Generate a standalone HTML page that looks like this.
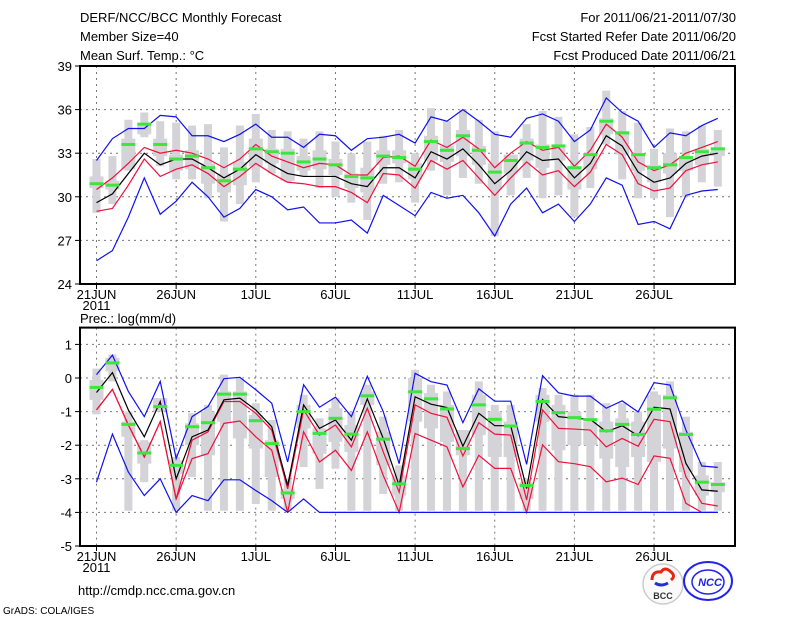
<!DOCTYPE html>
<html><head><meta charset="utf-8"><style>
body{margin:0;background:#fff;width:800px;height:618px;overflow:hidden}
svg{display:block}
text{font-family:"Liberation Sans",sans-serif;font-size:13px;fill:#000}
</style></head><body>
<svg id="c" width="800" height="618" viewBox="0 0 800 618">
<g>
<text x="80" y="22">DERF/NCC/BCC Monthly Forecast</text>
<text x="80" y="41">Member Size=40</text>
<text x="80" y="60">Mean Surf. Temp.: °C</text>
<text x="736" y="22" text-anchor="end">For 2011/06/21-2011/07/30</text>
<text x="736" y="41" text-anchor="end">Fcst Started Refer Date 2011/06/20</text>
<text x="736" y="60" text-anchor="end">Fcst Produced Date 2011/06/21</text>
<text x="80" y="323">Prec.: log(mm/d)</text>
<text x="78" y="595">http://cmdp.ncc.cma.gov.cn</text>
<text x="3" y="614" style="font-size:10px">GrADS: COLA/IGES</text>
</g>
<g>
<circle cx="663" cy="584" r="20" fill="#fafafa" stroke="#ccc" stroke-width="1.5"/>
<path d="M652 580 q0-9 9-8 q4-6 10 0 q5 4 0 8" fill="none" stroke="#e21" stroke-width="3"/>
<path d="M655 583 q6 4 13 0" fill="none" stroke="#23c" stroke-width="3"/>
<text x="663" y="599" text-anchor="middle" style="font-size:9px;font-weight:bold;fill:#333">BCC</text>
</g>
<g>
<ellipse cx="708" cy="581" rx="24" ry="19" fill="none" stroke="#22e" stroke-width="2"/>
<ellipse cx="708" cy="582" rx="16" ry="12" fill="none" stroke="#22e" stroke-width="1.5"/>
<text x="710" y="586" text-anchor="middle" style="font-size:11px;font-weight:bold;font-style:italic;fill:#22e">NCC</text>
</g>
</svg>
<script>
// ---- top panel data (temperature °C) ----
const days=["21JUN","26JUN","1JUL","6JUL","11JUL","16JUL","21JUL","26JUL"];
const tMean=[29.6,30.2,31.6,33.0,32.2,32.6,32.6,32.0,31.3,31.9,32.9,32.2,31.6,31.4,31.4,31.4,30.9,30.7,32.0,32.0,31.3,33.1,32.6,33.3,32.2,30.9,31.8,33.1,32.5,32.6,31.3,32.3,34.2,33.5,31.7,31.0,31.3,32.3,32.8,33.0];
const tRedHi=[30.5,31.3,32.3,33.4,33.0,33.2,33.0,32.6,32.0,32.6,33.6,32.8,32.4,32.0,32.3,32.2,31.5,31.5,32.7,32.8,32.1,33.9,33.4,34.1,33.3,32.0,33.0,33.8,33.2,33.4,32.1,33.2,35.0,34.1,32.4,31.8,32.2,33.0,33.4,33.8];
const tRedLo=[29.0,29.2,30.8,32.6,31.4,31.9,32.2,31.6,30.7,31.4,32.3,31.6,31.0,30.9,30.7,30.7,30.3,29.6,31.6,31.5,30.6,32.5,31.9,32.5,31.3,30.1,31.3,32.4,31.5,31.8,30.7,31.7,33.6,32.9,30.9,30.4,30.6,31.8,32.2,32.4];
const tBlueHi=[32.5,34.0,34.7,34.7,35.6,35.5,34.2,34.2,33.8,34.3,35.0,34.1,34.1,33.4,34.3,34.2,33.2,34.0,34.1,34.3,33.7,35.5,35.2,36.0,35.2,34.3,34.1,35.4,35.7,35.2,33.8,34.6,36.8,35.8,35.2,33.4,34.4,34.2,34.9,35.4];
const tBlueLo=[25.6,26.3,28.6,31.3,28.8,29.7,31.0,30.0,28.6,29.2,30.5,30.0,29.1,29.3,28.2,28.2,28.4,27.5,30.1,29.4,28.7,30.3,29.9,30.1,28.9,27.3,29.5,30.6,28.9,29.5,28.3,29.5,31.3,30.8,28.1,28.3,27.8,30.1,30.4,30.5];
const tGreen=[30.9,30.8,33.6,35.0,33.6,32.6,32.8,32.0,31.1,31.9,33.3,33.1,33.0,32.4,32.6,32.2,31.4,31.3,32.8,32.7,31.9,33.8,33.2,34.2,33.2,31.7,32.5,33.7,33.4,33.5,32.0,32.9,35.2,34.4,32.9,32.0,32.2,32.7,33.1,33.3];
const tWhiskHi=[32.6,32.8,35.3,35.8,35.2,35.1,34.9,35.0,33.4,34.9,35.7,34.6,34.5,34.0,34.5,33.8,33.0,33.8,34.2,34.6,33.0,36.1,35.2,36.0,35.3,34.5,32.9,35.0,35.9,35.5,34.3,34.8,37.3,35.9,35.1,33.3,34.7,34.5,34.9,34.6];
const tWhiskLo=[28.9,29.5,31.8,34.1,32.1,31.2,31.2,29.9,28.3,29.5,31.0,31.6,31.0,31.4,30.6,30.0,29.6,28.4,30.9,31.0,29.6,31.8,30.1,31.3,30.9,27.3,30.1,31.3,29.9,30.1,28.6,30.6,33.6,31.2,29.9,29.9,28.6,30.0,31.0,30.7];
const tBoxHi=[31.4,31.1,34.0,35.0,34.0,32.9,33.2,32.3,31.6,32.4,34.0,33.3,33.3,32.8,33.2,32.6,31.6,32.0,33.2,33.2,32.3,34.2,33.5,34.6,33.5,32.3,32.9,34.0,33.6,33.6,32.1,33.0,35.4,34.5,33.0,32.2,33.0,32.7,33.3,33.4];
const tBoxLo=[30.6,30.5,31.9,34.3,32.8,31.8,31.9,30.9,30.3,30.8,32.1,32.3,31.1,31.8,31.9,31.5,30.6,30.3,32.2,32.3,31.2,32.5,32.4,32.8,32.2,30.5,31.6,32.5,32.0,32.5,30.5,31.9,34.3,32.9,31.8,31.0,31.6,31.8,32.2,32.8];
const tTicks=[24,27,30,33,36,39];
// ---- bottom panel data (log precipitation) ----
const pMean=[-0.43,0.16,-0.95,-1.75,-0.7,-3.0,-1.75,-1.55,-0.65,-0.6,-0.95,-1.45,-3.2,-0.8,-1.5,-1.25,-1.85,-0.62,-1.8,-3.2,-0.56,-0.78,-0.88,-2.03,-1.05,-1.42,-1.42,-3.29,-0.64,-1.15,-1.2,-1.23,-1.6,-1.42,-1.72,-0.87,-0.92,-2.54,-3.33,-3.37];
const pRed1=[-0.95,-0.34,-1.4,-2.35,-1.3,-3.6,-1.85,-1.6,-0.7,-0.7,-1.05,-1.55,-3.3,-0.95,-1.7,-1.4,-2.05,-0.9,-2.2,-3.4,-0.8,-1.05,-1.17,-2.32,-1.33,-1.67,-1.7,-3.63,-0.95,-1.5,-1.52,-1.55,-2.05,-1.8,-2.03,-1.23,-1.3,-2.94,-3.73,-3.81];
const pRed2=[-0.95,-0.34,-1.4,-2.35,-1.3,-3.6,-2.4,-2.25,-1.35,-1.28,-1.75,-2.15,-4.0,-1.6,-2.5,-2.15,-2.75,-1.6,-2.9,-4.0,-1.65,-1.85,-2.05,-3.24,-2.3,-2.69,-2.69,-4.0,-1.99,-2.49,-2.55,-2.64,-3.09,-2.98,-3.17,-2.32,-2.39,-3.73,-4.0,-4.0];
const pBlueHi=[0.1,0.68,-0.4,-1.15,-0.1,-2.4,-1.15,-0.85,-0.02,0.02,-0.35,-0.75,-2.5,-0.2,-0.87,-0.57,-1.15,0.05,-1.0,-2.55,0.14,-0.11,-0.21,-1.33,-0.32,-0.69,-0.69,-2.57,0.07,-0.44,-0.54,-0.54,-0.9,-0.68,-1.01,-0.14,-0.21,-1.55,-2.62,-2.66];
const pBlueLo=[-3.1,-1.67,-2.8,-3.5,-3.0,-4.0,-3.5,-3.65,-3.03,-3.03,-3.35,-3.65,-4.0,-3.6,-4,-4,-4,-4,-4,-4,-4,-4,-4,-4,-4,-4,-4,-4,-4,-4,-4,-4,-4,-4,-4,-4,-4,-4,-4,-4];
const pGreen=[-0.28,0.45,-1.38,-2.23,-0.85,-2.6,-1.45,-1.33,-0.48,-0.48,-1.27,-1.95,-3.42,-1.0,-1.65,-1.2,-1.67,-0.53,-1.82,-3.15,-0.41,-0.62,-0.92,-2.1,-0.8,-1.23,-1.43,-3.2,-0.7,-1.03,-1.18,-1.24,-1.57,-1.38,-1.68,-0.93,-0.59,-1.68,-3.1,-3.17];
const pWhiskHi=[0.28,0.7,-1.0,-1.85,-0.6,-2.35,-1.05,-0.8,0.1,0.0,-0.75,-1.25,-3.0,-0.5,-1.2,-0.6,-1.0,-0.2,-1.15,-2.6,0.24,-0.2,-0.4,-1.55,-0.1,-0.8,-0.8,-3.0,-0.3,-0.5,-0.5,-0.5,-0.75,-0.75,-1.0,-0.4,-0.1,-1.15,-2.5,-2.5];
const pWhiskLo=[-1.08,-0.1,-3.95,-3.1,-1.0,-3.95,-2.95,-3.95,-3.95,-3.95,-3.75,-3.95,-3.95,-2.65,-3.3,-2.7,-3.95,-3.95,-3.45,-3.95,-3.95,-3.95,-3.95,-3.95,-3.95,-3.95,-3.95,-3.95,-3.95,-3.95,-3.95,-3.95,-3.95,-3.95,-3.95,-3.95,-3.95,-3.95,-3.95,-3.95];
const pBoxHi=[-0.06,0.6,-1.3,-1.9,-0.6,-2.45,-1.35,-1.0,-0.4,-0.4,-1.1,-1.85,-3.3,-0.8,-1.5,-0.9,-1.4,-0.4,-1.6,-2.9,0.0,-0.45,-0.8,-1.55,-0.5,-1.0,-1.3,-3.1,-0.5,-0.8,-1.0,-1.3,-1.3,-1.2,-1.3,-0.5,-0.5,-1.6,-2.9,-3.1];
const pBoxLo=[-0.65,0.2,-1.75,-2.55,-1.0,-2.85,-2.0,-2.3,-1.3,-1.8,-2.1,-2.95,-3.6,-1.5,-2.25,-1.9,-2.2,-0.8,-2.6,-3.5,-1.3,-1.5,-1.9,-2.3,-1.7,-2.35,-2.35,-3.6,-1.3,-2.15,-2.0,-2.0,-2.4,-2.65,-2.35,-2.5,-2.1,-2.8,-3.5,-3.4];
const pTicks=[-5,-4,-3,-2,-1,0,1];

const NS="http://www.w3.org/2000/svg";
const svg=document.getElementById('c');
const X0=80,X1=735,D0=96.5,DX=15.93;
const xs=i=>D0+i*DX;
function mk(tag,attrs,parent){const e=document.createElementNS(NS,tag);for(const k in attrs)e.setAttribute(k,attrs[k]);(parent||svg).appendChild(e);return e;}

function panel(name,top,bot,vmin,vmax,ticks,gridTicks,S){
  const ys=v=>bot-(v-vmin)/(vmax-vmin)*(bot-top);
  const g=mk('g',{});
  
  
  // grid
  gridTicks.forEach(t=>{const l=mk('line',{x1:X0,x2:X1,y1:ys(t),y2:ys(t),stroke:'#777','stroke-dasharray':'2,4','stroke-width':1},g);
    });
  days.forEach((d,k)=>{const x=xs(k*5);const l=mk('line',{x1:x,x2:x,y1:top,y2:bot,stroke:'#777','stroke-dasharray':'2,4','stroke-width':1},g);
    
    const tk=mk('line',{x1:x,x2:x,y1:bot,y2:bot+5,stroke:'#000'},g);
    
    const t=mk('text',{x:x,y:bot+15,'text-anchor':'middle'},g);t.textContent=d;
    });
  const yr=mk('text',{x:xs(0),y:bot+26,'text-anchor':'middle'},g);yr.textContent='2011';
  
  ticks.forEach(t=>{const y=ys(t);const tk=mk('line',{x1:X0-5,x2:X0,y1:y,y2:y,stroke:'#000'},g);
    
    const tx=mk('text',{x:X0-8,y:y+5,'text-anchor':'end'},g);tx.textContent=t;
    });
  // gray bars
  S.wHi.forEach((v,i)=>{const x=xs(i);
    const w=mk('rect',{x:x-4,y:ys(v),width:8,height:Math.max(1,ys(S.wLo[i])-ys(v)),fill:'#d3d3d8'},g);
    
    const b=mk('rect',{x:x-7,y:ys(S.bHi[i]),width:14,height:Math.max(1,ys(S.bLo[i])-ys(S.bHi[i])),fill:'#d3d3d8'},g);
    });
  const line=(arr,col,nm)=>{const p=mk('polyline',{points:arr.map((v,i)=>xs(i)+','+ys(v)).join(' '),fill:'none',stroke:col,'stroke-width':1.2},g);
    };
  line(S.rHi,'#f0103c','red-upper-line');line(S.rLo,'#f0103c','red-lower-line');
  line(S.m,'#000','ensemble-mean-line');
  line(S.bu,'#1010f0','blue-max-line');line(S.bl,'#1010f0','blue-min-line');
  S.g.forEach((v,i)=>{const r=mk('rect',{x:xs(i)-7,y:ys(v)-1.5,width:14,height:3,fill:'#3ce63c'},g);
    });
  const f=mk('rect',{x:X0,y:top,width:X1-X0,height:bot-top,fill:'none',stroke:'#000','stroke-width':2},g);
  
}
panel('temperature-panel',66,284,24,39,tTicks,[27,30,33,36],
 {m:tMean,rHi:tRedHi,rLo:tRedLo,bu:tBlueHi,bl:tBlueLo,g:tGreen,wHi:tWhiskHi,wLo:tWhiskLo,bHi:tBoxHi,bLo:tBoxLo});
panel('precipitation-panel',327.6,546,-5,1.5,pTicks,[-4,-3,-2,-1,0,1],
 {m:pMean,rHi:pRed1,rLo:pRed2,bu:pBlueHi,bl:pBlueLo,g:pGreen,wHi:pWhiskHi,wLo:pWhiskLo,bHi:pBoxHi,bLo:pBoxLo});
</script>
</body></html>
